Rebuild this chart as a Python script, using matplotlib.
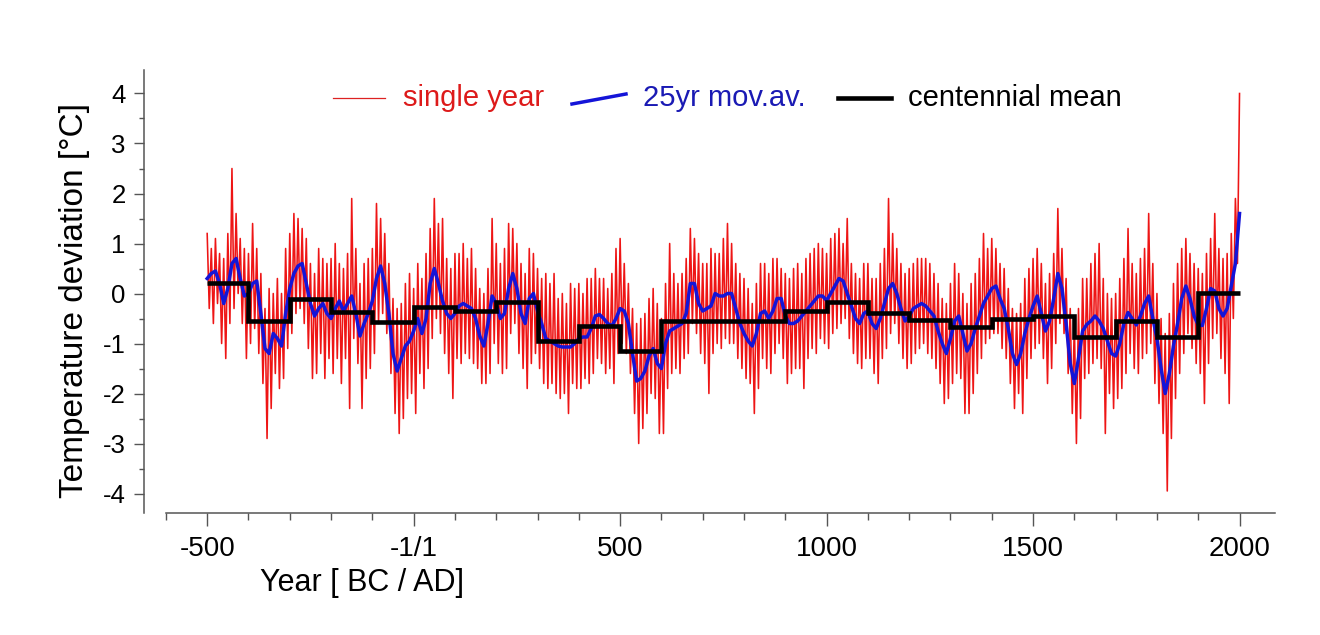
import numpy as np
import matplotlib
matplotlib.use('Agg')
import matplotlib.pyplot as plt
from matplotlib.lines import Line2D
from matplotlib.ticker import MultipleLocator, FixedLocator

plt.rcParams['font.family'] = ['Liberation Sans', 'DejaVu Sans']
plt.rcParams['axes.unicode_minus'] = False

# single year values, every 5 years from -500 to 2000
single_year_years = np.arange(-500, 2001, 5)
single_year = [
    1.2, -0.3, 0.9, -0.6, 1.1, -0.2, 0.8, -1.0, 0.7, -1.3, 1.2, -0.6, 2.5, -0.3, 1.6, 0.0, 1.1, -0.6, 0.9, -1.3,  # -500
    0.8, -1.0, 1.4, -0.7, 0.9, -1.2, 0.4, -1.8, -0.3, -2.9, 0.1, -2.3, 0.0, -1.6, 0.3, -1.9, 0.0, -1.7, 0.9, -1.1,  # -400
    1.2, -0.8, 1.6, -0.4, 1.5, -0.3, 1.3, -0.6, 1.1, -1.1, 0.6, -1.7, 0.4, -1.6, 0.9, -1.2, 0.7, -1.7, 0.6, -1.3,  # -300
    0.7, -1.6, 1.0, -1.3, 0.6, -1.8, 0.5, -1.3, 0.8, -2.3, 1.9, -0.9, 0.9, -1.4, 0.2, -2.3, 0.6, -1.7, 0.7, -1.5,  # -200
    0.9, -1.2, 1.8, -0.6, 1.5, -0.4, 1.2, -0.8, 0.6, -1.6, -0.1, -2.4, -0.3, -2.8, -0.2, -2.5, 0.2, -2.1, 0.4, -2.0,  # -100
    0.1, -2.4, 0.6, -1.6, 0.3, -1.9, 0.8, -1.5, 1.3, -0.9, 1.9, -0.5, 1.4, -0.8, 1.5, -1.2, 0.7, -1.6, 0.5, -2.1,  # 0
    0.8, -1.3, 0.8, -1.4, 1.0, -1.2, 0.7, -1.3, 0.9, -1.4, 0.5, -1.5, 0.1, -1.8, 0.0, -1.8, 0.5, -1.6, 1.5, -1.0,  # 100
    1.0, -1.4, 0.6, -1.6, 0.9, -1.5, 1.4, -0.8, 1.3, -0.6, 1.0, -1.2, 0.6, -1.5, 0.4, -1.9, 0.9, -1.4, 0.8, -1.2,  # 200
    0.5, -1.5, 0.3, -1.8, 0.4, -1.9, 0.2, -1.8, 0.4, -2.0, -0.1, -2.1, 0.0, -2.0, -0.2, -2.4, 0.2, -1.8, 0.1, -1.9,  # 300
    0.2, -1.9, 0.0, -1.7, 0.3, -1.8, 0.3, -1.6, 0.5, -1.3, 0.3, -1.4, 0.3, -1.6, 0.1, -1.5, 0.4, -1.8, 0.9, -1.2,  # 400
    1.1, -1.0, 0.6, -1.2, 0.2, -1.6, -0.3, -2.4, -0.6, -3.0, -0.5, -2.7, -0.4, -2.4, -0.1, -2.0, 0.1, -2.1, -0.2, -2.8,  # 500
    -0.5, -2.8, 0.2, -1.9, 1.0, -1.6, 0.4, -1.5, 0.2, -1.6, 0.4, -1.3, 0.7, -1.2, 1.3, -0.6, 1.1, -0.8, 0.8, -1.2,  # 600
    0.6, -1.4, 0.6, -2.0, 0.9, -1.2, 0.8, -1.0, 0.8, -1.1, 1.1, -0.9, 1.4, -1.0, 1.0, -1.0, 0.6, -1.3, 0.4, -1.5,  # 700
    0.3, -1.7, 0.1, -1.8, -0.2, -2.4, 0.2, -1.9, 0.6, -1.3, 0.6, -1.5, 0.4, -1.6, 0.7, -1.2, 0.7, -1.0, 0.5, -1.3,  # 800
    0.4, -1.8, 0.3, -1.6, 0.5, -1.5, 0.6, -1.5, 0.4, -1.9, 0.7, -1.3, 0.8, -1.1, 0.9, -1.2, 1.0, -0.9, 0.9, -1.0,  # 900
    0.8, -1.1, 1.1, -0.8, 1.2, -0.7, 1.3, -0.6, 1.0, -0.5, 1.5, -0.9, 0.6, -1.2, 0.4, -1.4, 0.3, -1.5, 0.6, -1.3,  # 1000
    0.6, -1.3, 0.3, -1.6, 0.3, -1.8, 0.6, -1.3, 0.9, -1.1, 1.9, -0.8, 1.2, -0.6, 0.9, -1.0, 0.6, -1.3, 0.4, -1.5,  # 1100
    0.5, -1.4, 0.6, -1.2, 0.7, -1.1, 0.7, -1.0, 0.7, -1.2, 0.6, -1.3, 0.4, -1.5, 0.2, -1.8, -0.1, -2.2, -0.2, -2.1,  # 1200
    0.2, -1.8, 0.6, -1.6, 0.4, -1.7, 0.0, -2.4, -0.2, -2.4, 0.2, -2.0, 0.4, -1.6, 0.7, -1.3, 1.2, -1.0, 0.9, -0.9,  # 1300
    1.1, -0.8, 0.9, -0.8, 0.6, -1.1, 0.5, -1.3, 0.1, -1.8, -0.3, -2.3, -0.4, -2.0, -0.2, -2.4, 0.3, -1.7, 0.5, -1.3,  # 1400
    0.7, -1.1, 0.9, -1.0, 0.6, -1.3, 0.2, -1.8, 0.4, -1.5, 0.8, -1.0, 1.7, -0.6, 0.9, -0.8, 0.3, -1.6, -0.3, -2.4,  # 1500
    -0.6, -3.0, -0.3, -2.5, 0.3, -1.7, 0.3, -1.6, 0.6, -1.4, 0.8, -1.3, 1.0, -1.5, 0.3, -2.8, 0.0, -2.0, -0.1, -2.3,  # 1600
    0.0, -2.1, 0.3, -1.9, 0.7, -1.6, 1.3, -1.2, 0.6, -1.5, 0.4, -1.6, 0.7, -1.3, 0.9, -1.2, 1.6, -1.0, 0.6, -1.8,  # 1700
    0.0, -2.2, -0.5, -2.8, -0.8, -3.95, -0.4, -2.9, 0.2, -2.1, 0.6, -1.6, 0.9, -1.2, 1.1, -0.8, 0.8, -1.1, 0.6, -1.4,  # 1800
    0.5, -1.6, 0.4, -2.2, 0.8, -1.4, 1.1, -0.9, 1.6, -0.8, 0.9, -1.3, 0.7, -1.6, 0.8, -2.2, 1.2, -0.5, 1.9, 0.6,  # 1900
    4.0,
]

# 25 year moving average, every 10 years
mov_av_years = np.arange(-500, 2001, 10)
mov_av = [
    0.3, 0.4, 0.45, 0.2, -0.2, 0.1, 0.6, 0.7, 0.3, -0.05,
    0.0, 0.2, 0.25, -0.4, -1.1, -1.2, -0.8, -0.9, -1.05, -0.4,
    0.1, 0.4, 0.55, 0.6, 0.2, -0.2, -0.45, -0.3, -0.2, -0.4,
    -0.5, -0.3, -0.15, -0.35, -0.2, -0.05, -0.4, -0.85, -0.6, -0.4,
    -0.15, 0.3, 0.55, 0.2, -0.4, -1.2, -1.55, -1.3, -1.05, -0.95,
    -0.75, -0.5, -0.8, -0.5, 0.2, 0.5, 0.2, -0.15, -0.4, -0.5,
    -0.4, -0.25, -0.2, -0.25, -0.3, -0.5, -0.85, -1.05, -0.6, -0.05,
    -0.2, -0.5, -0.4, 0.1, 0.4, 0.1, -0.4, -0.6, -0.1, 0.0,
    -0.35, -0.6, -0.9, -0.95, -1.0, -1.05, -1.07, -1.07, -1.07, -1.0,
    -0.9, -0.87, -0.87, -0.7, -0.45, -0.42, -0.5, -0.6, -0.65, -0.5,
    -0.3, -0.35, -0.6, -1.2, -1.75, -1.7, -1.55, -1.25, -1.1, -1.4,
    -1.5, -1.0, -0.75, -0.7, -0.65, -0.6, -0.4, 0.2, 0.2, -0.2,
    -0.35, -0.3, -0.25, 0.0, -0.05, -0.05, 0.0, 0.0, -0.3, -0.6,
    -0.8, -0.95, -1.05, -0.8, -0.4, -0.35, -0.5, -0.35, -0.1, -0.1,
    -0.45, -0.6, -0.6, -0.55, -0.45, -0.35, -0.25, -0.15, -0.05, -0.05,
    -0.14, 0.0, 0.15, 0.3, 0.25, 0.0, -0.25, -0.5, -0.6, -0.4,
    -0.35, -0.6, -0.7, -0.5, -0.2, 0.1, 0.2, 0.0, -0.3, -0.55,
    -0.45, -0.3, -0.25, -0.2, -0.25, -0.35, -0.45, -0.75, -1.0, -1.2,
    -0.9, -0.55, -0.45, -0.8, -1.15, -1.0, -0.7, -0.45, -0.2, -0.05,
    0.1, 0.15, -0.1, -0.3, -0.7, -1.2, -1.42, -1.2, -0.8, -0.5,
    -0.25, -0.05, -0.4, -0.75, -0.55, -0.1, 0.4, 0.1, -0.6, -1.4,
    -1.8, -1.3, -0.75, -0.62, -0.55, -0.45, -0.55, -0.7, -0.95, -1.2,
    -1.25, -1.0, -0.6, -0.38, -0.5, -0.63, -0.45, -0.2, -0.05, -0.5,
    -0.9, -1.5, -2.0, -1.6, -1.05, -0.6, -0.1, 0.15, -0.1, -0.45,
    -0.63, -0.64, -0.3, 0.1, 0.05, -0.3, -0.45, -0.3, 0.15, 0.6,
    1.6,
]

# centennial mean
century_edges = np.arange(-500, 2001, 100)
centennial_mean = [0.22, -0.55, -0.1, -0.36, -0.57, -0.27, -0.35, -0.17, -0.94, -0.64,
                   -1.15, -0.54, -0.55, -0.54, -0.35, -0.17, -0.39, -0.53, -0.67, -0.51,
                   -0.44, -0.87, -0.54, -0.87, 0.01]

tick_years = [-500, 0, 500, 1000, 1500, 2000]
tick_labels = ['-500', '-1/1', '500', '1000', '1500', '2000']

W, H = 1320, 635
fig = plt.figure(figsize=(W / 100, H / 100), dpi=100)
ax = fig.add_axes([144 / W, 1 - 513 / H, (1280 - 144) / W, (513 - 70) / H])

ax.plot(single_year_years, single_year, color='#ee1515', lw=1.15, zorder=2)
ax.plot(mov_av_years, mov_av, color='#1414d8', lw=2.5, zorder=3)
ax.stairs(centennial_mean, century_edges, baseline=None, color='black', lw=3.3, zorder=4)

ax.set_xlim(-653, 2098)
ax.set_ylim(-4.39, 4.47)

axis_col = '#555555'
for s in ['top', 'right']:
    ax.spines[s].set_visible(False)
for s in ['left', 'bottom']:
    ax.spines[s].set_color(axis_col)
    ax.spines[s].set_linewidth(1.1)
ax.spines['bottom'].set_bounds(-600, 2085)

ax.xaxis.set_major_locator(FixedLocator(tick_years))
ax.set_xticklabels(tick_labels)
ax.xaxis.set_minor_locator(MultipleLocator(100))
ax.yaxis.set_major_locator(MultipleLocator(1))
ax.yaxis.set_minor_locator(MultipleLocator(0.5))

ax.tick_params(axis='x', which='major', length=9.4, width=1, color=axis_col, pad=7, labelsize=20)
ax.tick_params(axis='x', which='minor', length=5, width=1, color=axis_col)
ax.tick_params(axis='y', which='major', length=7.2, width=1, color=axis_col, pad=6, labelsize=18.5)
ax.tick_params(axis='y', which='minor', length=3.6, width=1, color=axis_col)

# axis titles
fig.text(75 / W, 1 - 300 / H, 'Temperature deviation [°C]', rotation=90,
         ha='center', va='center', fontsize=24)
fig.text(260 / W, 1 - 583 / H, 'Year [ BC / AD]', ha='left', va='center', fontsize=22)

# legend across the top
yl = 1 - 98 / H
fig.add_artist(Line2D([333 / W, 385 / W], [yl, yl], color='#dd2222', lw=0.9))
fig.text(403 / W, yl, 'single year', color='#dd1a1a', fontsize=21, va='center')
fig.add_artist(Line2D([572 / W, 626 / W], [1 - 104 / H, 1 - 94 / H], color='#1414d8', lw=2.5))
fig.text(643 / W, yl, '25yr mov.av.', color='#1a1ab4', fontsize=21, va='center')
fig.add_artist(Line2D([838 / W, 891 / W], [yl, yl], color='black', lw=3.3))
fig.text(908 / W, yl, 'centennial mean', color='black', fontsize=21, va='center')

fig.savefig('out.png', dpi=100)
